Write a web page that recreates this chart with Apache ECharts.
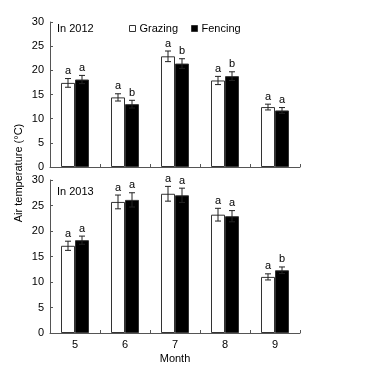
<!DOCTYPE html>
<html><head><meta charset="utf-8">
<script src="https://cdn.jsdelivr.net/npm/echarts@6/dist/echarts.min.js"></script>
<style>html,body{margin:0;padding:0;background:#fff}#c{width:369px;height:380px}</style>
</head><body><div id="c"></div>
<script>
const months = ['5','6','7','8','9'];
const yTicks = [0,5,10,15,20,25,30];
// 2012
const graze2012 = [17.4, 14.4, 22.9, 17.9, 12.4];
const grazeErr2012 = [0.9, 0.75, 1.1, 0.85, 0.6];
const fence2012 = [18.1, 13.0, 21.4, 18.8, 11.7];
const fenceErr2012 = [0.85, 0.8, 1.0, 0.9, 0.6];
const grazeLet2012 = ['a','a','a','a','a'];
const fenceLet2012 = ['a','b','b','b','a'];
// 2013
const graze2013 = [17.1, 25.7, 27.3, 23.2, 11.0];
const grazeErr2013 = [0.9, 1.35, 1.45, 1.25, 0.6];
const fence2013 = [18.2, 26.1, 27.0, 22.9, 12.3];
const fenceErr2013 = [0.8, 1.4, 1.4, 1.1, 0.65];
const grazeLet2013 = ['a','a','a','a','a'];
const fenceLet2013 = ['a','a','a','a','b'];

const FONT = 'Liberation Sans, Arial, sans-serif';
const BARW = 14;

function errSeries(vals, errs, letters, side, gi){
  return {
    type:'custom', xAxisIndex:gi, yAxisIndex:gi, z:5, silent:true,
    data: vals.map((v,i)=>[i, v, errs[i]]),
    renderItem:(params, api)=>{
      const i = api.value(0), v = api.value(1), e = api.value(2);
      const c = api.coord([i, v]);
      const t = api.coord([i, v+e]);
      const b = api.coord([i, v-e]);
      const x = c[0] + side*BARW/2;
      const st = {stroke:'#222', lineWidth:1};
      return {type:'group', children:[
        {type:'line', shape:{x1:x,y1:t[1],x2:x,y2:b[1]}, style:st},
        {type:'line', shape:{x1:x-3,y1:t[1],x2:x+3,y2:t[1]}, style:st},
        {type:'line', shape:{x1:x-3,y1:b[1],x2:x+3,y2:b[1]}, style:st},
        {type:'text', style:{text:letters[params.dataIndex], x:x, y:t[1]-2, textAlign:'center', textVerticalAlign:'bottom', font:'11px '+FONT, fill:'#000'}}
      ]};
    }
  };
}

function xAx(gi, showLabels){
  return {
    type:'category', gridIndex:gi, data:months, boundaryGap:true,
    axisLine:{show:true, lineStyle:{color:'#555', width:1}},
    axisTick:{show:true, inside:true, length:3, interval:0, lineStyle:{color:'#555'}},
    axisLabel:{show:showLabels, color:'#000', fontSize:11, fontFamily:FONT, margin:6},
    name: showLabels ? 'Month' : '', nameLocation:'middle', nameGap:20,
    nameTextStyle:{color:'#000', fontSize:11, fontFamily:FONT}
  };
}
function yAx(gi){
  return {
    type:'value', gridIndex:gi, min:yTicks[0], max:yTicks[yTicks.length-1], interval:5,
    axisLine:{show:true, lineStyle:{color:'#555', width:1}},
    axisTick:{show:true, inside:true, length:3, lineStyle:{color:'#555'}},
    splitLine:{show:false},
    axisLabel:{color:'#000', fontSize:11, fontFamily:FONT, margin:6}
  };
}
function bar(name, vals, gi, fill){
  return {
    name, type:'bar', xAxisIndex:gi, yAxisIndex:gi, data:vals, barWidth:BARW, barGap:'0%',
    itemStyle:{color:fill, borderColor:'#333', borderWidth:1}
  };
}

const chart = echarts.init(document.getElementById('c'), null, {renderer:'canvas'});
chart.setOption({
  animation:false,
  backgroundColor:'#fff',
  textStyle:{fontFamily:FONT},
  grid:[
    {left:50, top:22, width:250, height:145},
    {left:50, top:180, width:250, height:153}
  ],
  legend:{
    data:['Grazing','Fencing'], left:129, top:23, padding:0, icon:'rect', itemWidth:6, itemHeight:6, itemGap:13,
    itemStyle:{borderWidth:1, borderColor:'#333'},
    textStyle:{color:'#000', fontSize:11, fontFamily:FONT, padding:[0,0,0,-1]}
  },
  xAxis:[xAx(0,false), xAx(1,true)],
  yAxis:[yAx(0), yAx(1)],
  graphic:[
    {type:'text', left:57, top:23, style:{text:'In 2012', font:'11px '+FONT, fill:'#000'}},
    {type:'text', left:57, top:186, style:{text:'In 2013', font:'11px '+FONT, fill:'#000'}},
    {type:'text', x:19, y:173, rotation:Math.PI/2, style:{text:'Air temperature (°C)', font:'11px '+FONT, fill:'#000', textAlign:'center', textVerticalAlign:'middle'}}
  ],
  series:[
    bar('Grazing', graze2012, 0, '#fff'),
    bar('Fencing', fence2012, 0, '#000'),
    bar('Grazing', graze2013, 1, '#fff'),
    bar('Fencing', fence2013, 1, '#000'),
    errSeries(graze2012, grazeErr2012, grazeLet2012, -1, 0),
    errSeries(fence2012, fenceErr2012, fenceLet2012, 1, 0),
    errSeries(graze2013, grazeErr2013, grazeLet2013, -1, 1),
    errSeries(fence2013, fenceErr2013, fenceLet2013, 1, 1)
  ]
});
</script></body></html>
